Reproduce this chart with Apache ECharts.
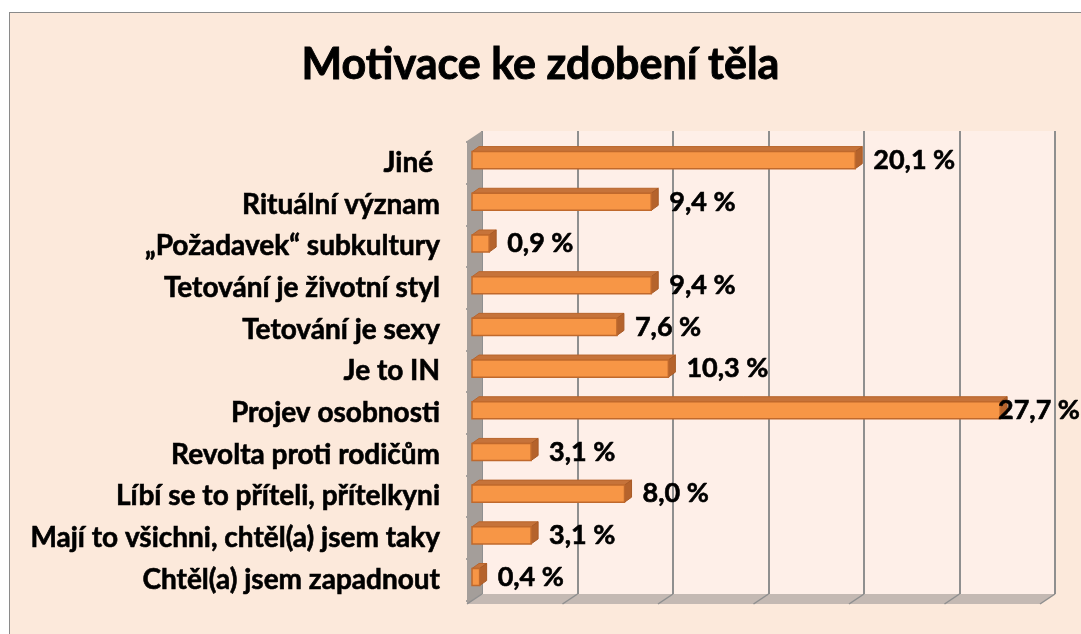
<!DOCTYPE html>
<html>
<head>
<meta charset="utf-8">
<script src="https://cdn.jsdelivr.net/npm/echarts/dist/echarts.min.js"></script>
<style>
html,body{margin:0;padding:0;background:#ffffff;}
#frame{position:absolute;left:9px;top:12px;width:1100px;height:700px;background:#FCE9DB;border:1.5px solid #8a8a8a;box-sizing:border-box;}
#c{position:absolute;left:0;top:0;width:1081px;height:634px;}
</style>
</head>
<body>
<div id="frame"></div>
<div id="c"></div>
<script>
// ---- data ----
const title = "Motivace ke zdobení těla";
const categories = [
  "Chtěl(a) jsem zapadnout",
  "Mají to všichni, chtěl(a) jsem taky",
  "Líbí se to příteli, přítelkyni",
  "Revolta proti rodičům",
  "Projev osobnosti",
  "Je to IN",
  "Tetování je sexy",
  "Tetování je životní styl",
  "„Požadavek“ subkultury",
  "Rituální význam",
  "Jiné "
];
const values = [0.4, 3.1, 8.0, 3.1, 27.7, 10.3, 7.6, 9.4, 0.9, 9.4, 20.1];
const axisMin = 0;
const axisMax = 30;
const axisStep = 5;

function fmt(v) { return v.toFixed(1).replace('.', ',') + ' %'; }

// ---- layout (decoration of the 3D box) ----
const FRONT_LEFT = 467, BACK_LEFT = 482;
const BACK_TOP = 131, BACK_BOTTOM = 594, FRONT_BOTTOM = 604, FRONT_TOP = 141;
const BACK_WIDTH = 573;
const DEPTH_X = BACK_LEFT - FRONT_LEFT, DEPTH_Y = FRONT_BOTTOM - BACK_BOTTOM;

const chart = echarts.init(document.getElementById('c'), null, {renderer: 'canvas'});
const labelFont = 'Lato';
const valueFont = 'bold 27px ' + labelFont;
const measureCtx = document.createElement('canvas').getContext('2d');
measureCtx.font = valueFont;

const floorLines = [];
for (let k = 0; k <= (axisMax - axisMin) / axisStep; k++) {
  const bx = BACK_LEFT + BACK_WIDTH * k * axisStep / (axisMax - axisMin);
  floorLines.push({
    type: 'line', z: 1, silent: true,
    shape: {x1: bx, y1: BACK_BOTTOM, x2: bx - DEPTH_X, y2: FRONT_BOTTOM},
    style: {stroke: '#8f8f8f', lineWidth: 1.5}
  });
}

chart.setOption({
  backgroundColor: 'transparent',
  animation: false,
  title: {
    text: title,
    left: 'center',
    top: 39,
    textStyle: {fontFamily: labelFont, fontWeight: 'bold', fontSize: 43, color: '#000',
                textBorderColor: '#000', textBorderWidth: 0.9}
  },
  grid: [
    { // back wall
      left: BACK_LEFT, top: BACK_TOP, width: BACK_WIDTH, height: BACK_BOTTOM - BACK_TOP,
      show: true, backgroundColor: '#FEEFE8', borderWidth: 0, z: 0
    },
    { // bars (front plane)
      left: 472, top: 142, width: 572, height: 458.6
    }
  ],
  xAxis: [
    {
      gridIndex: 0, type: 'value', min: axisMin, max: axisMax, interval: axisStep,
      axisLabel: {show: false}, axisLine: {show: false}, axisTick: {show: false},
      splitLine: {show: true, lineStyle: {color: '#8f8f8f', width: 2}}
    },
    {
      gridIndex: 1, type: 'value', min: axisMin, max: axisMax, interval: axisStep,
      axisLabel: {show: false}, axisLine: {show: false}, axisTick: {show: false},
      splitLine: {show: false}
    }
  ],
  yAxis: [
    {
      gridIndex: 0, type: 'category', data: categories, show: false
    },
    {
      gridIndex: 1, type: 'category', data: categories, offset: 5,
      axisLine: {show: true, lineStyle: {color: '#8a8a8a', width: 1.5}},
      axisTick: {show: true, length: 6, lineStyle: {color: '#8a8a8a', width: 1.5}},
      axisLabel: {
        margin: 27, fontFamily: labelFont, fontWeight: 'bold', fontSize: 28, color: '#000',
        textBorderColor: '#000', textBorderWidth: 0.6
      },
      splitLine: {show: false}
    }
  ],
  graphic: {
    elements: [
      { // floor
        type: 'polygon', z: 1, silent: true,
        shape: {points: [[BACK_LEFT, BACK_BOTTOM], [BACK_LEFT + BACK_WIDTH, BACK_BOTTOM],
                         [BACK_LEFT + BACK_WIDTH - DEPTH_X, FRONT_BOTTOM], [FRONT_LEFT, FRONT_BOTTOM]]},
        style: {fill: '#C4B9B3'}
      },
      { // left wall
        type: 'polygon', z: 1, silent: true,
        shape: {points: [[FRONT_LEFT, FRONT_TOP], [BACK_LEFT, BACK_TOP], [BACK_LEFT, BACK_BOTTOM], [FRONT_LEFT, FRONT_BOTTOM]]},
        style: {fill: '#A49E9A'}
      }
    ].concat(floorLines)
  },
  series: [{
    type: 'custom',
    xAxisIndex: 1, yAxisIndex: 1,
    clip: false,
    z: 5,
    data: values.map((v, i) => [v, i]),
    encode: {x: 0, y: 1},
    renderItem: function (params, api) {
      const v = api.value(0), ci = api.value(1);
      const s = api.coord([0, ci]);
      const e = api.coord([v, ci]);
      const band = api.size([0, 1])[1];
      const c = s[1];
      const fTop = c - band * 0.27, fBot = c + band * 0.14;
      const dx = 7, dy = 5;
      const x0 = s[0], x1 = e[0];
      const txt = fmt(v);
      const tw = measureCtx.measureText(txt).width;
      const tx = Math.min(x1 + dx + 11, chart.getWidth() - tw - 1);
      return {
        type: 'group',
        children: [
          {type: 'polygon', shape: {points: [[x0, fTop], [x0 + dx, fTop - dy], [x1 + dx, fTop - dy], [x1, fTop]]},
           style: {fill: '#C6733A', stroke: '#B8652C', lineWidth: 1}},
          {type: 'polygon', shape: {points: [[x1, fTop], [x1 + dx, fTop - dy], [x1 + dx, fBot - dy], [x1, fBot]]},
           style: {fill: '#B5632C', stroke: '#A85A26', lineWidth: 1}},
          {type: 'rect', shape: {x: x0, y: fTop, width: x1 - x0, height: fBot - fTop},
           style: {fill: '#F79646', stroke: '#C0692C', lineWidth: 1.5}},
          {type: 'text', x: tx, y: (fTop + fBot) / 2, z2: 10,
           style: {text: txt, font: valueFont, fill: '#000',
                   stroke: '#000', lineWidth: 0.6,
                   verticalAlign: 'middle', align: 'left'}}
        ]
      };
    }
  }]
});
</script>
</body>
</html>
